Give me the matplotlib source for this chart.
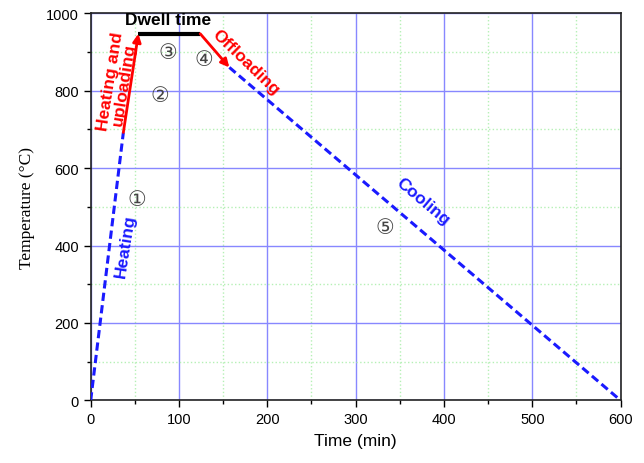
import matplotlib
matplotlib.use("Agg")
import matplotlib.pyplot as plt
from matplotlib.ticker import MultipleLocator

# stage break points (time in min, temperature in C)
heat_t = [0, 37]
heat_T = [0, 692]
upload_t = [37, 54]
upload_T = [692, 947]
dwell_t = [54, 124]
dwell_T = [947, 947]
offload_t = [124, 157]
offload_T = [947, 860]
cool_t = [157, 600]
cool_T = [860, 0]

stage_labels = ["①", "②", "③", "④", "⑤"]
stage_pos = [(52, 521), (78, 789), (87, 900), (128, 882), (333, 448)]

fig = plt.figure(figsize=(6.44, 4.64), dpi=100)
ax = fig.add_axes([0.1408, 0.1349, 0.8229, 0.8345])

blue = "#1a1aff"
dash = (0, (2.7, 1.4))
ax.plot(heat_t, heat_T, color=blue, lw=2.2, ls=dash, zorder=3)
ax.plot(cool_t, cool_T, color=blue, lw=2.2, ls=dash, zorder=3)
ax.plot(dwell_t, dwell_T, color="black", lw=3, zorder=3, solid_capstyle="butt")
ax.annotate("", xy=(upload_t[1], upload_T[1]), xytext=(upload_t[0], upload_T[0]),
            arrowprops=dict(arrowstyle="-|>", color="red", lw=2, mutation_scale=12,
                            shrinkA=0, shrinkB=0), zorder=4)
ax.annotate("", xy=(offload_t[1], offload_T[1]), xytext=(offload_t[0], offload_T[0]),
            arrowprops=dict(arrowstyle="-|>", color="red", lw=2, mutation_scale=12,
                            shrinkA=0, shrinkB=0), zorder=4)

txt = dict(ha="center", va="center", fontsize=12.5, fontweight="bold",
           family="Liberation Sans")
ax.text(88, 985, "Dwell time", **txt)
ax.text(30, 822, "Heating and\nuploading", color="red", rotation=81,
        linespacing=0.95, **txt)
ax.text(176, 875, "Offloading", color="red", rotation=-44, **txt)
ax.text(39, 400, "Heating", color=blue, rotation=81, **txt)
ax.text(376, 516, "Cooling", color=blue, rotation=-40, **txt)
for lab, (x, y) in zip(stage_labels, stage_pos):
    ax.text(x, y, lab, ha="center", va="center", fontsize=15, color="#444444",
            family=["DejaVu Sans", "Noto Sans CJK SC"])

ax.set_xlim(0, 600)
ax.set_ylim(0, 1000)
ax.xaxis.set_major_locator(MultipleLocator(100))
ax.xaxis.set_minor_locator(MultipleLocator(50))
ax.yaxis.set_major_locator(MultipleLocator(200))
ax.yaxis.set_minor_locator(MultipleLocator(100))
ax.grid(which="major", color="#8888ff", lw=1)
ax.grid(which="minor", color="#b5f0b5", lw=1, ls=":")
ax.set_axisbelow(True)
ax.tick_params(which="major", direction="out", length=5, width=1,
               labelsize=10.5, top=False, right=False)
ax.tick_params(which="minor", direction="out", length=3, width=1, top=False, right=False)
for lbl in ax.get_xticklabels() + ax.get_yticklabels():
    lbl.set_family("Liberation Sans")
for s in ax.spines.values():
    s.set_linewidth(1.2)
    s.set_color("#222222")

ax.set_xlabel("Time (min)", fontsize=12.5, family="Liberation Sans", labelpad=5)
ax.set_ylabel("Temperature (°C)", fontsize=12.5, family="Liberation Serif", labelpad=8)

fig.savefig("out.png", dpi=100)
